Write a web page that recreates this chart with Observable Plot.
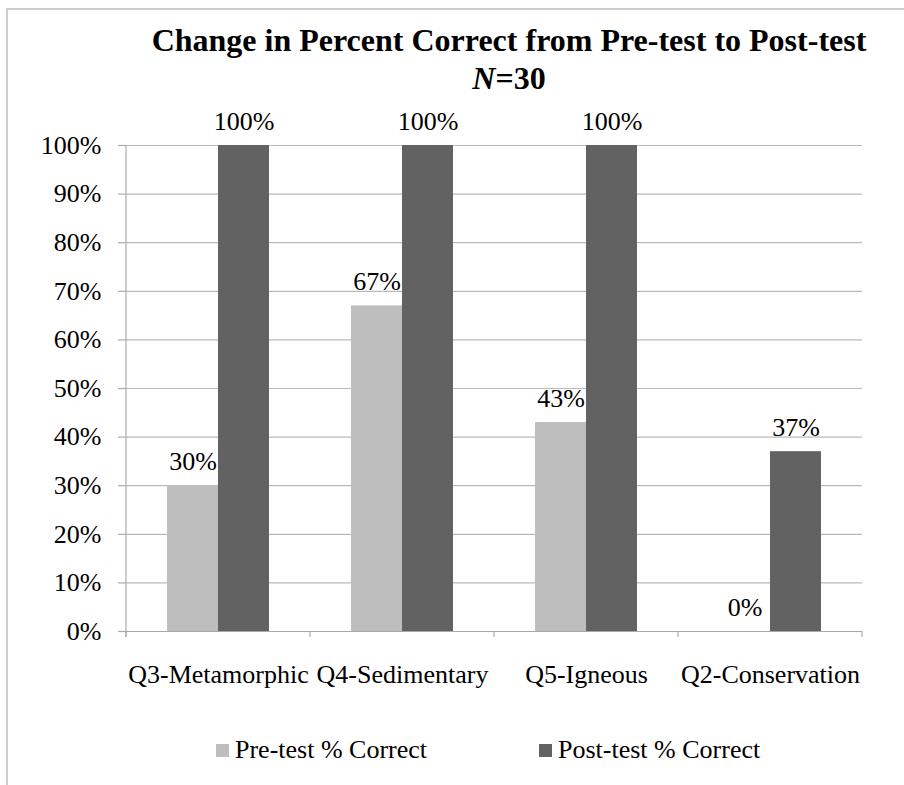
<!DOCTYPE html>
<html>
<head>
<meta charset="utf-8">
<script src="https://cdn.jsdelivr.net/npm/d3@7"></script>
<script src="https://cdn.jsdelivr.net/npm/@observablehq/plot@0.6"></script>
<style>
  html, body { margin: 0; padding: 0; background: #fff; }
  #wrap { position: relative; width: 904px; height: 785px; overflow: hidden; font-family: "Liberation Serif", "Times New Roman", serif; color: #000; }
  #frame { position: absolute; left: 6px; top: 8px; width: 920px; height: 800px; border-left: 2px solid #cfcfcf; border-top: 2px solid #cfcfcf; box-sizing: border-box; }
  #chart { position: absolute; left: 0; top: 0; }
  .title { position: absolute; left: 0; width: 1018px; text-align: center; font-weight: bold; font-size: 32px; line-height: 1; white-space: nowrap; }
  .legend { position: absolute; top: 735px; font-size: 26px; line-height: 30px; white-space: nowrap; display: flex; align-items: center; }
  .legend .sw { display: inline-block; width: 13px; height: 13px; margin-right: 6px; }
</style>
</head>
<body>
<div id="wrap">
  <div id="frame"></div>
  <div id="chart"></div>
  <div class="title" id="t1" style="top:24px">Change in Percent Correct from Pre-test to Post-test</div>
  <div class="title" id="t2" style="top:62px"><i>N</i>=30</div>
  <div class="legend" id="leg0" style="left:216px"></div>
  <div class="legend" id="leg1" style="left:539px"></div>
</div>
<script>
const categories = ["Q3-Metamorphic", "Q4-Sedimentary", "Q5-Igneous", "Q2-Conservation"];
const series = ["Pre-test % Correct", "Post-test % Correct"];
const preValues = [0.30, 0.67, 0.43, 0.00];
const postValues = [1.00, 1.00, 1.00, 0.37];
const yTicks = [0, 0.1, 0.2, 0.3, 0.4, 0.5, 0.6, 0.7, 0.8, 0.9, 1.0];
const seriesColors = ["#bebebe", "#626262"];

const pct = d3.format(".0%");
const data = categories.flatMap((c, i) => [
  {category: c, series: series[0], value: preValues[i]},
  {category: c, series: series[1], value: postValues[i]}
]);

const plot = Plot.plot({
  width: 904,
  height: 785,
  marginLeft: 126,
  marginRight: 42,
  marginTop: 145,
  marginBottom: 154,
  style: {fontFamily: "'Liberation Serif', 'Times New Roman', serif", fontSize: "26px", color: "#000", background: "transparent", overflow: "visible"},
  fx: {domain: categories, padding: 0, label: null, axis: null},
  x: {domain: series, paddingInner: 0, paddingOuter: 0.77, axis: null},
  y: {domain: [0, 1], label: null},
  color: {domain: series, range: seriesColors},
  marks: [
    Plot.gridY(yTicks, {stroke: "#bababa", strokeOpacity: 1, strokeWidth: 1.2}),
    Plot.axisY(yTicks, {tickFormat: pct, tickSize: 8, tickPadding: 17, stroke: "#aaaaaa", strokeWidth: 1.2, label: null, fontSize: 26, fill: "#000"}),
    Plot.barY(data, {fx: "category", x: "series", y: "value", fill: "series"}),
    Plot.ruleY([0], {stroke: "#a8a8a8", strokeWidth: 1.2}),
    Plot.text(data, {fx: "category", x: "series", y: "value", text: d => pct(d.value), lineAnchor: "bottom", dy: -16, fontSize: 26, fill: "#000"}),
    Plot.axisFx({anchor: "bottom", tickSize: 0, tickPadding: 33, label: null, fontSize: 26, fill: "#000"})
  ]
});
document.getElementById("chart").appendChild(plot);

// category boundary ticks and left axis line, placed from Plot's own scales
const fx = plot.scale("fx");
const y = plot.scale("y");
const y0 = y.apply(0), y1 = y.apply(1);
const starts = categories.map(c => fx.apply(c));
const step = starts[1] - starts[0];
const bounds = [...starts, starts[starts.length - 1] + step];
const g = d3.select(plot).append("g").attr("stroke", "#aaaaaa").attr("stroke-width", 1.2);
g.selectAll("line.b").data(bounds).join("line")
  .attr("x1", d => d).attr("x2", d => d).attr("y1", y0).attr("y2", y0 + 6);
g.append("line").attr("x1", bounds[0]).attr("x2", bounds[0]).attr("y1", y1).attr("y2", y0 + 6);

// legend
series.forEach((s, i) => {
  const el = document.getElementById("leg" + i);
  el.innerHTML = `<span class="sw" style="background:${seriesColors[i]}"></span><span>${s}</span>`;
});
</script>
</body>
</html>
